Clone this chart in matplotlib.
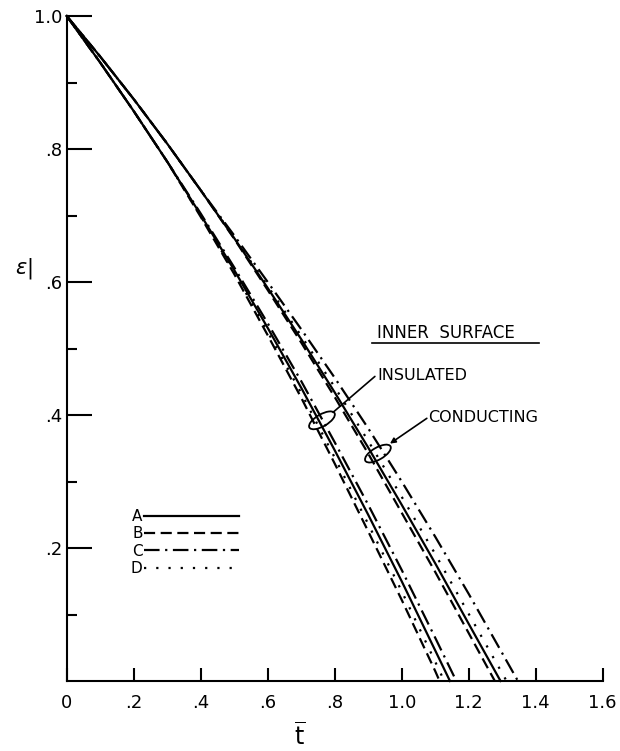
import matplotlib
matplotlib.use('Agg')
import matplotlib.pyplot as plt
import matplotlib.transforms as mtransforms
from matplotlib.patches import Ellipse
from matplotlib.lines import Line2D

# dimensionless time t-bar, and eps-bar
cond_t = [0.0, 0.1, 0.2, 0.3, 0.4, 0.5, 0.6, 0.7, 0.8, 0.9, 1.0, 1.1, 1.2]
cond_A = [1.0, 0.939, 0.875, 0.808, 0.738, 0.666, 0.591, 0.514, 0.434, 0.351, 0.265, 0.177, 0.086]
cond_B = [1.0, 0.939, 0.875, 0.808, 0.738, 0.665, 0.588, 0.509, 0.427, 0.342, 0.253, 0.164, 0.072]
cond_C = [1.0, 0.939, 0.875, 0.808, 0.738, 0.670, 0.600, 0.529, 0.456, 0.380, 0.300, 0.217, 0.131]
cond_D = [1.0, 0.939, 0.875, 0.808, 0.738, 0.667, 0.594, 0.519, 0.442, 0.361, 0.277, 0.191, 0.101]
cond_end = {'A': 1.295, 'B': 1.278, 'C': 1.347, 'D': 1.313}

ins_t = [0.0, 0.1, 0.2, 0.3, 0.4, 0.5, 0.6, 0.7, 0.8, 0.9, 1.0, 1.1]
ins_A = [1.0, 0.930, 0.857, 0.781, 0.701, 0.618, 0.531, 0.441, 0.347, 0.250, 0.150, 0.046]
ins_B = [1.0, 0.930, 0.857, 0.781, 0.698, 0.612, 0.520, 0.426, 0.327, 0.225, 0.122, 0.015]
ins_C = [1.0, 0.930, 0.857, 0.781, 0.703, 0.622, 0.538, 0.451, 0.359, 0.265, 0.167, 0.065]
ins_D = [1.0, 0.930, 0.857, 0.781, 0.699, 0.615, 0.525, 0.433, 0.336, 0.236, 0.135, 0.029]
ins_end = {'A': 1.144, 'B': 1.113, 'C': 1.163, 'D': 1.127}

x_ticks = [0, 0.2, 0.4, 0.6, 0.8, 1.0, 1.2, 1.4, 1.6]
x_labels = ['0', '.2', '.4', '.6', '.8', '1.0', '1.2', '1.4', '1.6']
y_ticks = [0.2, 0.4, 0.6, 0.8, 1.0]
y_labels = ['.2', '.4', '.6', '.8', '1.0']
y_minor = [0.1, 0.3, 0.5, 0.7, 0.9]

styles = {
    'A': '-',
    'B': (0, (5, 2.5)),
    'C': (0, (7, 2.5, 1, 2.5)),
    'D': (0, (1, 4.5)),
}

plt.rcParams['font.family'] = 'DejaVu Sans'

fig = plt.figure(figsize=(6.2, 7.51), dpi=100)
ax = fig.add_axes([66.7/620, 1-681/751, (602.7-66.7)/620, (681-16)/751])

lw = 1.6
handles = []
for key, ys in zip('ABCD', [cond_A, cond_B, cond_C, cond_D]):
    ln, = ax.plot(cond_t + [cond_end[key]], ys + [0.0], color='black', lw=lw,
                  linestyle=styles[key], clip_on=False, label=key)
    handles.append(ln)
for key, ys in zip('ABCD', [ins_A, ins_B, ins_C, ins_D]):
    ax.plot(ins_t + [ins_end[key]], ys + [0.0], color='black', lw=lw,
            linestyle=styles[key], clip_on=False)

ax.set_xlim(0, 1.6)
ax.set_ylim(0, 1.0)
for s in ['top', 'right']:
    ax.spines[s].set_visible(False)
for s in ['left', 'bottom']:
    ax.spines[s].set_linewidth(1.5)

ax.set_xticks(x_ticks)
ax.set_xticklabels(x_labels, fontsize=13)
ax.set_yticks(y_ticks)
ax.set_yticklabels(y_labels, fontsize=13)
ax.set_yticks(y_minor, minor=True)
ax.tick_params(axis='x', direction='in', length=9.5, width=1.5, pad=9)
ax.tick_params(axis='y', which='major', direction='in', length=18, width=1.5, pad=3)
ax.tick_params(axis='y', which='minor', direction='in', length=7, width=1.5)

# axis labels
fig.text(300/620, 1-737/751, r'$\overline{\mathrm{t}}$', fontsize=17, ha='center', va='center')
fig.text(24/620, 1-268/751, r'$\epsilon$|', fontsize=15, ha='center', va='center')

# legend
leg = ax.legend(handles, ['A', 'B', 'C', 'D'], loc='upper left', frameon=False,
                markerfirst=False, handlelength=6.2, handletextpad=0.1,
                labelspacing=0.15, borderpad=0, borderaxespad=0, fontsize=11,
                bbox_to_anchor=(131/620, 1-509/751), bbox_transform=fig.transFigure)

# annotations
ax.text(0.927, 0.523, 'INNER  SURFACE', fontsize=12, va='center', ha='left')
ax.add_line(Line2D([0.911, 1.410], [0.508, 0.508], color='black', lw=1.2, clip_on=False))
ax.text(0.927, 0.459, 'INSULATED', fontsize=11.5, va='center', ha='left')
ax.text(1.078, 0.396, 'CONDUCTING', fontsize=11.5, va='center', ha='left')

ax.annotate('', xy=(0.795, 0.404), xytext=(0.920, 0.458),
            arrowprops=dict(arrowstyle='-', color='black', lw=1.2, shrinkA=0, shrinkB=0))
ax.annotate('', xy=(0.965, 0.357), xytext=(1.075, 0.395),
            arrowprops=dict(arrowstyle='-|>', color='black', lw=1.2, mutation_scale=8,
                            shrinkA=0, shrinkB=0))

for (tx, ey) in [(0.762, 0.392), (0.929, 0.342)]:
    tr = fig.dpi_scale_trans + mtransforms.ScaledTranslation(tx, ey, ax.transData)
    ax.add_patch(Ellipse((0, 0), 0.29, 0.12, angle=30, transform=tr, fill=False,
                         edgecolor='black', lw=1.3, clip_on=False))

fig.savefig('out.png', dpi=100)
